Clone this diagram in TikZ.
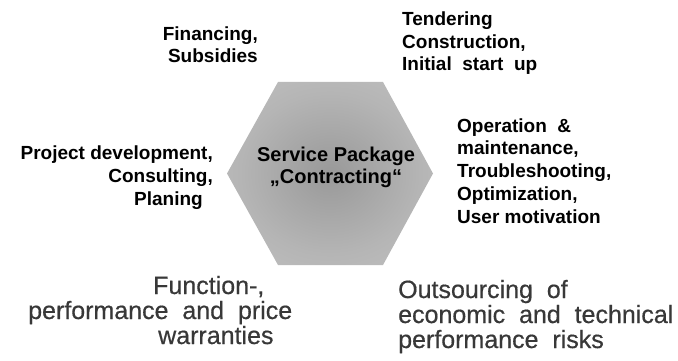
\documentclass[tikz,border=0pt]{standalone}
\usepackage{fontspec}
\setmainfont{Liberation Sans}
\newfontfamily\gainfont[WordSpace=2,FakeBold=0.5]{Liberation Sans}
\usetikzlibrary{positioning}
\pgfdeclareradialshading{hexshade}{\pgfpoint{0bp}{0bp}}{color(0bp)=(black!40); color(22bp)=(black!29); color(50bp)=(black!20)}

\begin{document}
\begin{tikzpicture}[x=1pt,y=-1pt,
  task/.style={font=\bfseries\fontsize{19}{22.7}\selectfont,inner sep=0pt},
  gain/.style={font=\gainfont\fontsize{25}{25}\selectfont,text=black!78,inner sep=0pt}]

  \useasboundingbox (0,0) rectangle (678,361);

  % service package hexagon
  \path[shading=hexshade] (227,173.5) -- (278,82) -- (383,82) -- (433,173.5)
    -- (383,265) -- (278,265) -- cycle;
  \node[task,font=\bfseries\fontsize{20}{22}\selectfont,align=center,anchor=base] (pkg) at (336,183)
    {Service Package\\ „Contracting“};

  % services around it
  \node[task,align=right,anchor=base east] (finance) at (258,63) {Financing,\\Subsidies};
  \node[task,align=left,anchor=base west] (tender) at (402,71)
    {Tendering\\Construction,\\Initial\ \ start\ \ up};
  \node[task,align=right,anchor=base east] (develop) at (213,205)
    {Project development,\\Consulting,\hspace*{8pt}\\Planing\hspace*{10pt}};
  \node[task,align=left,anchor=base west] (operate) at (457,223)
    {Operation\ \ \&\\maintenance,\\Troubleshooting,\\Optimization,\\User motivation};

  % benefits
  \node[gain,align=left,anchor=base west] (warrant) at (28,344)
    {\hspace*{125pt}Function-,\\performance and price\\\hspace*{130pt}warranties};
  \node[gain,align=left,anchor=base west] (risk) at (398,348)
    {Outsourcing of\\economic and technical\\performance risks};
\end{tikzpicture}
\end{document}
